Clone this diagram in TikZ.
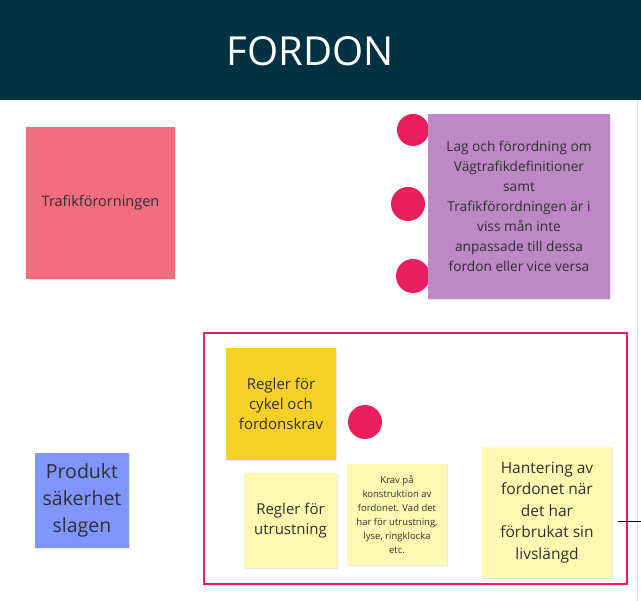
\documentclass[tikz,border=0pt]{standalone}
\usepackage{fontspec}
\setmainfont{Open Sans}
\usetikzlibrary{shadows}
\definecolor{header}{HTML}{023242}
\definecolor{notepink}{HTML}{F16C7F}
\definecolor{notepurple}{HTML}{BE88C7}
\definecolor{noteyellow}{HTML}{F5D128}
\definecolor{notelight}{HTML}{FFF9B1}
\definecolor{noteblue}{HTML}{7F95FF}
\definecolor{dotred}{HTML}{E91E5D}
\definecolor{txt}{HTML}{303030}
\definecolor{edgegray}{HTML}{DCE2EA}
\tikzset{
  note/.style={rectangle, inner sep=2pt, align=center, text=txt,
    drop shadow={opacity=0.18, shadow xshift=1pt, shadow yshift=-1.5pt}},
  dot/.style={circle, fill=dotred, draw=none, inner sep=0pt},
}
\begin{document}
\begin{tikzpicture}[x=1pt,y=-1pt]
\useasboundingbox (0,0) rectangle (641,601);
\fill[white] (0,0) rectangle (641,601);
% header
\fill[header] (0,0) rectangle (641,100);
\node[text=white, font=\fontsize{40}{48}\selectfont] (title) at (310,51) {FORDON};
% right edge line
\draw[edgegray, line width=1pt] (637.5,100) -- (637.5,601);
% frame
\draw[dotred, line width=1.6pt] (204,333) rectangle (627,584);
% dots behind purple note
\node[dot, minimum size=32pt] (d1) at (413,130) {};
\node[dot, minimum size=34pt] (d2) at (408,204) {};
\node[dot, minimum size=34pt] (d3) at (413,276) {};
% notes
\node[note, fill=notepink, minimum width=149pt, minimum height=152pt,
  font=\fontsize{14.5}{19}\selectfont] (trafik) at (100.5,203) {Trafikförorningen};
\node[note, fill=notepurple, minimum width=182pt, minimum height=185pt,
  font=\fontsize{13.7}{20}\selectfont] (lag) at (519,206.5)
  {Lag och förordning om\\Vägtrafikdefinitioner\\samt\\Trafikförordningen är i\\viss mån inte\\anpassade till dessa\\fordon eller vice versa};
\node[note, fill=noteyellow, minimum width=110pt, minimum height=112pt,
  font=\fontsize{15}{20}\selectfont] (cykel) at (281,404) {Regler för\\cykel och\\fordonskrav};
\node[dot, minimum size=34pt] (d4) at (365,422) {};
\node[note, fill=notelight, minimum width=93pt, minimum height=95pt,
  font=\fontsize{15}{20.5}\selectfont] (utr) at (290.5,520.5) {Regler för\\utrustning};
\node[note, fill=notelight, minimum width=100pt, minimum height=101pt,
  font=\fontsize{9.5}{14}\selectfont] (krav) at (397,514.5)
  {Krav på\\konstruktion av\\fordonet. Vad det\\har för utrustning,\\lyse, ringklocka\\etc.};
\node[note, fill=notelight, minimum width=130pt, minimum height=131pt,
  font=\fontsize{15.5}{21.5}\selectfont] (hant) at (547,512.5)
  {Hantering av\\fordonet när\\det har\\förbrukat sin\\livslängd};
\node[note, fill=noteblue, minimum width=94pt, minimum height=95pt,
  font=\fontsize{19.5}{27}\selectfont] (prod) at (82,500.5) {Produkt\\säkerhet\\slagen};
% short connector stub
\coordinate (s1) at (618,521);
\coordinate (s2) at (641,521);
\draw[black, line width=0.8pt] (s1) -- (s2);
\end{tikzpicture}
\end{document}
